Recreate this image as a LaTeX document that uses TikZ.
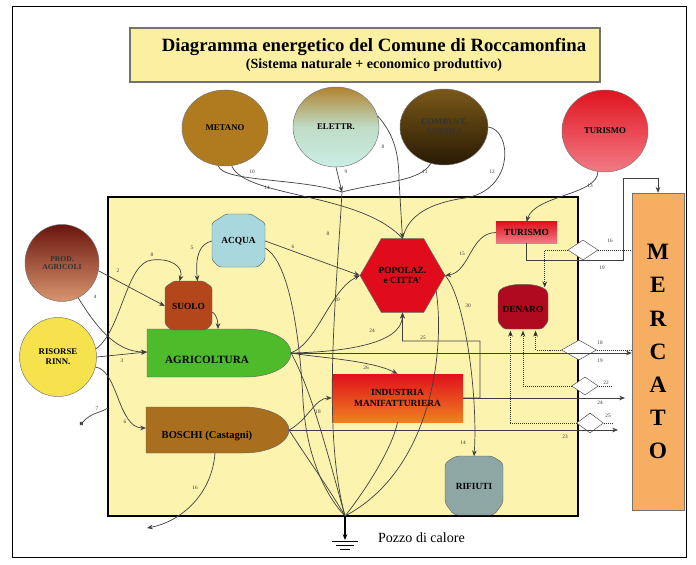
\documentclass[tikz,border=0pt]{standalone}
\usepackage{fontspec}
\setmainfont{Liberation Serif}
\usepackage{tikz}
\usetikzlibrary{
  arrows.meta,      % punte Stealth e Circle
  shapes.geometric, % ellissi, esagono, rombi di scambio
  positioning
}

\definecolor{fondoSist}{HTML}{FCF3AE}
\definecolor{fondoTit}{HTML}{FBF0A2}
\definecolor{metano}{HTML}{B07A1E}
\definecolor{elettrSu}{HTML}{B0822E}
\definecolor{elettrMez}{HTML}{BFDCC6}
\definecolor{elettrGiu}{HTML}{CBEDE6}
\definecolor{combSu}{HTML}{7A5818}
\definecolor{combGiu}{HTML}{281A04}
\definecolor{turSu}{HTML}{E0141F}
\definecolor{turGiu}{HTML}{F27A86}
\definecolor{prodSu}{HTML}{6A140E}
\definecolor{prodGiu}{HTML}{D8966E}
\definecolor{risorse}{HTML}{F6E24C}
\definecolor{acqua}{HTML}{A8D8DE}
\definecolor{suolo}{HTML}{B4461C}
\definecolor{agri}{HTML}{4DBB2A}
\definecolor{boschi}{HTML}{A96F1E}
\definecolor{popolaz}{HTML}{E00B1B}
\definecolor{denaro}{HTML}{B00A20}
\definecolor{indSu}{HTML}{E0101C}
\definecolor{indGiu}{HTML}{F08020}
\definecolor{rifiuti}{HTML}{8EA7A4}
\definecolor{mercato}{HTML}{F5AE62}

\tikzset{
  flusso/.style={draw=black!75, line width=0.6pt},
  freccia/.style={flusso, ->},
  soldi/.style={draw=black!80, line width=0.7pt, densely dotted},
  num/.style={font=\fontsize{4.5}{5}\selectfont, text=black!80, inner sep=0.5pt},
  sigla/.style={font=\fontsize{8}{9}\selectfont\bfseries, align=center, inner sep=0pt},
  fonte/.style={ellipse, draw=black!55, line width=0.4pt, minimum width=2.58cm,
                minimum height=2.28cm, sigla, font=\fontsize{7.5}{8.5}\selectfont\bfseries},
  scambio/.style={diamond, draw=black!70, fill=white, line width=0.4pt, inner sep=0pt,
                  minimum width=0.9cm, minimum height=0.6cm},
}

\begin{document}
\begin{tikzpicture}[x=0.03cm, y=-0.03cm, >={Stealth[length=5pt, width=4pt]}]
  \useasboundingbox (0,0) rectangle (696,565);

  % === cornice e titolo ===
  \draw[line width=0.6pt] (12,6) rectangle (686,557);
  \node[draw=black!55, line width=1pt, fill=fondoTit, minimum width=14.1cm,
        minimum height=1.62cm] (titolo) at (365,55) {};
  \node[font=\fontsize{16}{18}\selectfont\bfseries] (tit1) at (374,47)
    {Diagramma energetico del Comune di Roccamonfina};
  \node[font=\fontsize{12}{14}\selectfont\bfseries] (tit2) at (374,65)
    {(Sistema naturale + economico produttivo)};

  % === confine del sistema ===
  \draw[line width=1.6pt, fill=fondoSist] (108,197) rectangle (578,516);

  % === sorgenti esterne ===
  \node[fonte, fill=metano] (metano) at (225,128) {METANO};
  \node[fonte, top color=elettrSu, bottom color=elettrGiu, middle color=elettrMez,
        minimum height=2.4cm] (elettr) at (336,127) {ELETTR.};
  \node[fonte, top color=combSu, bottom color=combGiu, minimum width=2.64cm,
        text=black!80] (combust) at (444,127) {COMBUST.\\FOSSILI};
  \node[fonte, top color=turSu, bottom color=turGiu, minimum height=2.46cm]
    (turismoE) at (605,131) {TURISMO};
  \node[fonte, top color=prodSu, bottom color=prodGiu, minimum width=2.22cm,
        minimum height=2.31cm, font=\fontsize{6.5}{7.5}\selectfont\bfseries,
        text=black!80] (prodagr) at (62,263) {PROD.\\AGRICOLI};
  \node[fonte, fill=risorse, minimum width=2.31cm, minimum height=2.37cm]
    (risorse) at (58,357) {RISORSE\\RINN.};

  % === comparti interni ===
  % serbatoio ACQUA
  \draw[draw=black!60, fill=acqua, rounded corners=2pt] (212,223) -- (226,214) -- (251,214)
    -- (265,223) -- (265,260) -- (258,267) -- (219,267) -- (212,260) -- cycle;
  \node[sigla, minimum width=1.59cm, minimum height=1.59cm] (acqua) at (238.5,241) {ACQUA};

  % AGRICOLTURA (sotto il SUOLO)
  \draw[draw=black!60, fill=agri] (147,329) -- (245,329) .. controls (272,329) and (291,340) ..
    (291,353) .. controls (291,366) and (272,377) .. (245,377) -- (147,377) -- cycle;
  \node[sigla, font=\fontsize{9.5}{11}\selectfont\bfseries] (agricoltura) at (207,360) {AGRICOLTURA};
  \coordinate (agri-w) at (147,352);
  \coordinate (agri-n) at (218,329);
  \coordinate (agri-e) at (291,353);

  % serbatoio SUOLO
  \draw[draw=black!60, fill=suolo, rounded corners=2pt] (165,287) -- (174,281) -- (203,281)
    -- (212,287) -- (212,324) -- (206,330) -- (171,330) -- (165,324) -- cycle;
  \node[sigla, minimum width=1.41cm, minimum height=1.47cm] (suolo) at (188.5,306) {SUOLO};

  % BOSCHI
  \draw[draw=black!60, fill=boschi] (146,407) -- (243,407) .. controls (270,407) and (289,418) ..
    (289,430) .. controls (289,442) and (270,453) .. (243,453) -- (146,453) -- cycle;
  \node[sigla, font=\fontsize{9}{10}\selectfont\bfseries] (boschi) at (207,436) {BOSCHI (Castagni)};
  \coordinate (bosch-w) at (146,428);
  \coordinate (bosch-e) at (289,430);
  \coordinate (bosch-s) at (215,453);

  % POPOLAZIONE e CITTA'
  \node[regular polygon, regular polygon sides=6, minimum size=2.55cm, draw=black!60,
        fill=popolaz, sigla] (popolaz) at (402.5,275.5) {POPOLAZ.\\e CITTA'};

  % TURISMO interno
  \node[rectangle, minimum width=1.83cm, minimum height=0.63cm, top color=turSu,
        bottom color=turGiu, sigla] (turismo) at (526.5,232.5) {TURISMO};

  % serbatoio DENARO
  \draw[draw=black!60, fill=denaro, rounded corners=2pt] (498,293) .. controls (505,282) and (541,282) ..
    (548,293) -- (548,322) -- (542,329) -- (504,329) -- (498,322) -- cycle;
  \node[sigla, minimum width=1.5cm, minimum height=1.29cm] (denaro) at (523,309) {DENARO};

  % INDUSTRIA
  \node[rectangle, minimum width=3.93cm, minimum height=1.44cm, top color=indSu,
        bottom color=indGiu, sigla] (industria) at (397.5,398) {INDUSTRIA\\MANIFATTURIERA};

  % serbatoio RIFIUTI
  \draw[draw=black!60, fill=rifiuti, rounded corners=3pt] (445,463) -- (456,456) -- (492,456)
    -- (503,463) -- (503,503) -- (494,515) -- (454,515) -- (445,503) -- cycle;
  \node[sigla, minimum width=1.74cm, minimum height=1.77cm] (rifiuti) at (474,486) {RIFIUTI};

  % MERCATO
  \node[draw=black!55, fill=mercato, minimum width=1.56cm, minimum height=9.51cm,
        font=\fontsize{20}{28.2}\selectfont\bfseries, align=center, inner sep=0pt]
    (mercato) at (658,351.5) {M\\E\\R\\C\\A\\T\\O};

  % === scambi con il mercato ===
  \node[scambio] (sc1) at (583,250) {};
  \node[scambio, minimum width=1.05cm] (sc2) at (579,350) {};
  \node[scambio, minimum width=0.8cm, minimum height=0.54cm] (sc3) at (585,386) {};
  \node[scambio, minimum width=0.8cm] (sc4) at (590,423) {};

  % === pozzo di calore ===
  \coordinate (pozzo) at (345,516);
  \coordinate (terra) at (345,540);
  \draw[line width=1.2pt, ->] (pozzo) -- (terra);
  \draw[line width=0.6pt] (332,541) -- (358,541) (336,545) -- (354,545) (340,549) -- (350,549);
  \node[anchor=west, font=\fontsize{12}{14}\selectfont] (pozzotxt) at (374,538) {Pozzo di calore};

  % === flussi dalle fonti in alto ===
  \coordinate (j1) at (342,192);
  \draw[flusso] (metano.-100) .. controls (222,182) and (300,178) .. (j1);
  \draw[flusso] (metano.-80) .. controls (245,198) and (360,192) .. (popolaz.north);
  \draw[freccia] (elettr.south) -- (j1);
  \draw[flusso] (combust.-110) .. controls (420,182) and (380,182) .. (j1);
  \draw[flusso] (combust.east) .. controls (512,130) and (515,190) .. (465,198)
    .. controls (430,203) and (408,215) .. (popolaz.north);
  \draw[freccia] (elettr.15) .. controls (392,132) and (399,150) .. (399,180) -- (popolaz.north);
  \draw[flusso] (j1) .. controls (336,300) and (322,430) .. (pozzo);
  \draw[freccia] (turismoE.-100) .. controls (598,195) and (535,195) .. (turismo.north);

  % === flussi da sinistra ===
  \draw[freccia] (prodagr.-12) -- (suolo.west);
  \draw[freccia] (prodagr.-65) .. controls (95,325) and (115,352) .. (agri-w);
  \draw[freccia] (risorse.east) -- (agri-w);
  \draw[freccia] (risorse.-15) .. controls (118,370) and (118,428) .. (bosch-w);
  \draw[freccia] (risorse.12) .. controls (122,330) and (126,262) .. (152,260)
    .. controls (170,258) and (184,266) .. (suolo.110);
  \coordinate (bordo7) at (108,408);
  \coordinate (usc7) at (80,425);
  \draw[flusso, -{Circle[length=3.5pt]}] (bordo7) .. controls (98,414) and (92,412) .. (usc7);

  % === ACQUA e SUOLO ===
  \draw[freccia] (acqua.west) .. controls (200,244) and (195,255) .. (suolo.70);
  \draw[freccia] (acqua.east) -- (popolaz.west);
  \draw[flusso] (acqua.-15) .. controls (290,262) and (300,340) .. (303,400)
    .. controls (306,455) and (325,495) .. (pozzo);
  \draw[freccia] (suolo.-15) .. controls (214,312) and (218,318) .. (agri-n);

  % === AGRICOLTURA e BOSCHI ===
  \draw[freccia] (agri-e) .. controls (318,342) and (330,290) .. (popolaz.west);
  \draw[freccia] (agri-e) .. controls (340,352) and (402,345) .. (popolaz.south);
  \draw[freccia] (agri-e) .. controls (320,358) and (370,360) .. (industria.north);
  \draw[freccia] (agri-e) -- (agri-e -| mercato.west);
  \draw[flusso] (agri-e) .. controls (312,390) and (332,470) .. (pozzo);
  \draw[freccia] (bosch-e) .. controls (308,420) and (315,398) .. (industria.west);
  \coordinate (m3) at (618,430);
  \draw[freccia] (bosch-e) -- (m3);
  \draw[flusso] (bosch-e) .. controls (305,455) and (330,490) .. (pozzo);
  \coordinate (usc16) at (147,528);
  \draw[freccia] (bosch-s) .. controls (212,495) and (180,522) .. (usc16);

  % === INDUSTRIA ===
  \coordinate (k1) at (480,341);
  \coordinate (k2) at (402.5,341);
  \draw[freccia] (industria.east) -| (k1) -- (k2) -- (popolaz.south);
  \coordinate (m2) at (625,396);
  \draw[freccia] (industria.east) -- (industria.east -| m2);
  \draw[flusso] (industria.south) .. controls (392,450) and (362,495) .. (pozzo);

  % === POPOLAZIONE e TURISMO ===
  \draw[freccia] (popolaz.east) .. controls (466,300) and (478,400) .. (rifiuti.north);
  \draw[flusso] (popolaz.-25) .. controls (445,350) and (432,470) .. (pozzo);
  \draw[freccia] (turismo.west) .. controls (470,233) and (470,272) .. (popolaz.east);
  \coordinate (t1) at (623,260);
  \coordinate (t2) at (623,178);
  \draw[freccia] (turismo.south) |- (t1) -- (t2) -| (mercato.north);

  % === DENARO (flussi monetari) ===
  \draw[soldi, ->] (sc1.west) -| (denaro.45);
  \draw[soldi, ->] (sc2.west) -| (denaro.-60);
  \draw[soldi, ->] (sc3.west) -| (denaro.south);
  \draw[soldi, ->] (sc4.west) -| (denaro.-120);
  \draw[soldi] (sc1.east) -- (sc1.east -| mercato.west);
  \draw[soldi] (sc2.east) -- (sc2.east -| mercato.west);
  \draw[soldi] (sc3.east) -- (612,386);
  \draw[soldi] (sc4.east) -- (612,423);

  % === numeri dei flussi ===
  \node[num] (n10) at (252,172) {10};
  \node[num] (n14a) at (267,188) {14};
  \node[num] (n9) at (346,172) {9};
  \node[num] (n11) at (425,172) {11};
  \node[num] (n12) at (492,172) {12};
  \node[num] (n8a) at (383,147) {8};
  \node[num] (n8c) at (328,234) {8};
  \node[num] (n13) at (590,186) {13};
  \node[num] (n2) at (118,271) {2};
  \node[num] (n4) at (95,297) {4};
  \node[num] (n3) at (122,361) {3};
  \node[num] (n6a) at (125,422) {6};
  \node[num] (n8b) at (152,255) {8};
  \node[num] (n7) at (97,409) {7};
  \node[num] (n5) at (192,248) {5};
  \node[num] (n6b) at (293,247) {6};
  \node[num] (n20) at (337,300) {20};
  \node[num] (n24) at (372,331) {24};
  \node[num] (n25) at (423,338) {25};
  \node[num] (n26) at (366,368) {26};
  \node[num] (n18) at (318,412) {18};
  \node[num] (n30) at (468,306) {30};
  \node[num] (n14b) at (463,443) {14};
  \node[num] (n15) at (462,254) {15};
  \node[num] (n16a) at (195,488) {16};
  \node[num] (n23) at (565,437) {23};
  \node[num] (n16b) at (610,241) {16};
  \node[num] (n19a) at (602,268) {19};
  \node[num] (n18b) at (600,343) {18};
  \node[num] (n19b) at (600,361) {19};
  \node[num] (n22) at (606,383) {22};
  \node[num] (n24b) at (600,403) {24};
  \node[num] (n25b) at (608,416) {25};
\end{tikzpicture}
\end{document}
